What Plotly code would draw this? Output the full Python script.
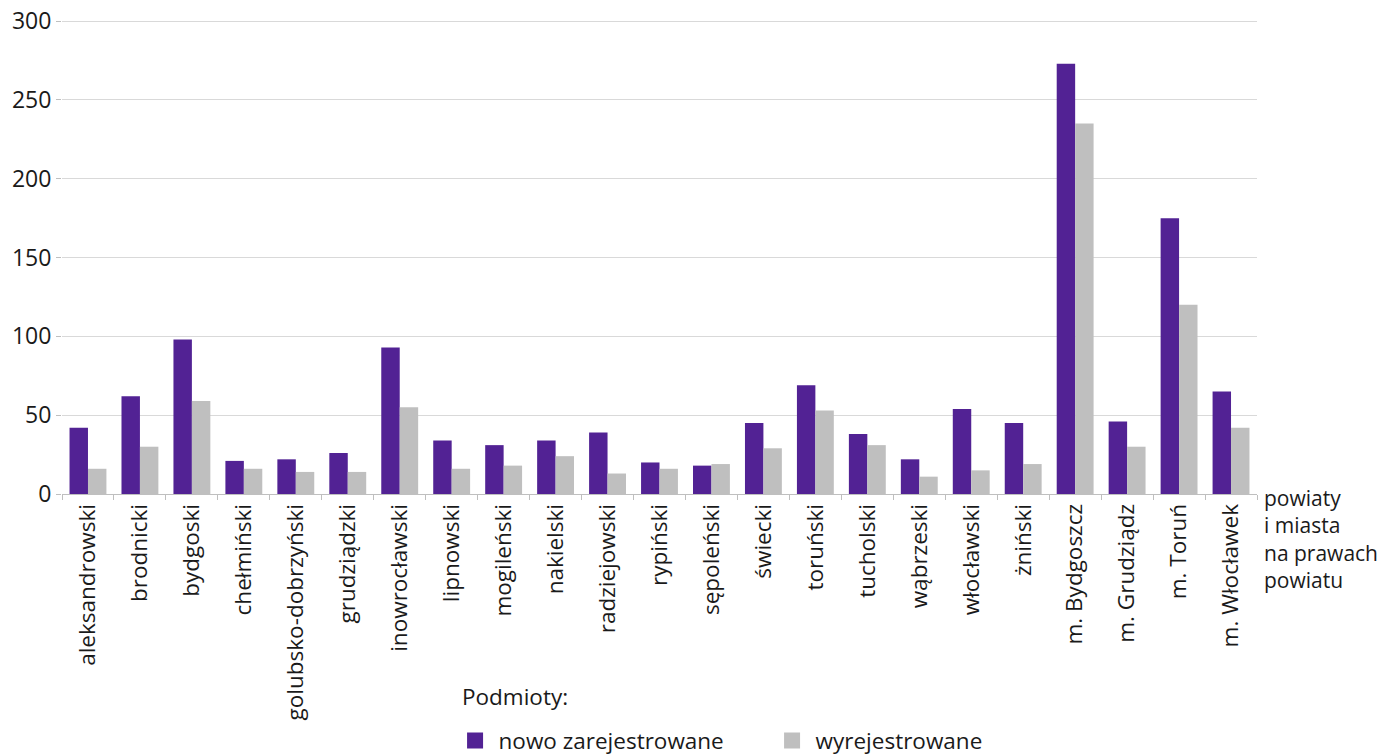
import plotly.graph_objects as go

categories = ["aleksandrowski", "brodnicki", "bydgoski", "chełmiński", "golubsko-dobrzyński",
              "grudziądzki", "inowrocławski", "lipnowski", "mogileński", "nakielski",
              "radziejowski", "rypiński", "sępoleński", "świecki", "toruński", "tucholski",
              "wąbrzeski", "włocławski", "żniński", "m. Bydgoszcz", "m. Grudziądz",
              "m. Toruń", "m. Włocławek"]
nowo = [42, 62, 98, 21, 22, 26, 93, 34, 31, 34, 39, 20, 18, 45, 69, 38, 22, 54, 45, 273, 46, 175, 65]
wyrej = [16, 30, 59, 16, 14, 14, 55, 16, 18, 24, 13, 16, 19, 29, 53, 31, 11, 15, 19, 235, 30, 120, 42]
series_names = ["nowo zarejestrowane", "wyrejestrowane"]
y_ticks = [0, 50, 100, 150, 200, 250, 300]

PURPLE = "#522294"
GREY = "#BFBFBF"
FONT = "Open Sans"
TXT = "#1a1a1a"

fig = go.Figure()
fig.add_trace(go.Bar(x=categories, y=nowo, name=series_names[0], marker_color=PURPLE,
                     marker_line_width=0, showlegend=False))
fig.add_trace(go.Bar(x=categories, y=wyrej, name=series_names[1], marker_color=GREY,
                     marker_line_width=0, showlegend=False))
# legend-only entries with larger square symbols
for nm, col in zip(series_names, [PURPLE, GREY]):
    fig.add_trace(go.Scatter(x=[None], y=[None], mode="markers", name=nm,
                             marker=dict(symbol="square", size=16, color=col)))

# page body has an 8px margin, so the figure is sized to end at the window edge
fig.update_layout(
    width=1379, height=747,
    margin=dict(l=54, r=130, t=12, b=261, autoexpand=False),
    paper_bgcolor="white", plot_bgcolor="white",
    barmode="group", bargap=0.29, bargroupgap=0,
    font=dict(family=FONT, color=TXT, size=20),
    showlegend=True,
    legend=dict(orientation="h", x=0.326, xanchor="left", y=-0.521, yanchor="middle",
                font=dict(size=22.5, family=FONT, color=TXT),
                entrywidth=265, entrywidthmode="pixels", itemsizing="trace",
                itemwidth=37, bgcolor="rgba(0,0,0,0)"),
    xaxis=dict(type="category", tickangle=-90, ticks="outside", tickson="boundaries",
               ticklen=5, tickcolor="#BFBFBF", showline=True, linecolor="#BFBFBF",
               linewidth=1, showgrid=False, tickfont=dict(size=22.5, family=FONT, color=TXT),
               automargin=False, fixedrange=True),
    yaxis=dict(range=[0, 300.7], tickvals=y_ticks, ticks="outside", ticklen=5,
               tickcolor="#BFBFBF", showgrid=True, gridcolor="#D9D9D9", gridwidth=1,
               zeroline=False, showline=False, tickfont=dict(size=23, family=FONT, color=TXT),
               ticklabeloverflow="allow", automargin=False, fixedrange=True),
    annotations=[
        dict(text="powiaty<br>i miasta<br>na prawach<br>powiatu", xref="paper", yref="paper",
             x=1.004, y=0.025, xanchor="left", yanchor="top", align="left", showarrow=False,
             font=dict(size=21, family=FONT, color=TXT)),
        dict(text="Podmioty:", xref="paper", yref="paper", x=0.333, y=-0.428,
             xanchor="left", yanchor="middle", showarrow=False,
             font=dict(size=22.5, family=FONT, color=TXT)),
    ],
)

fig.write_html("out.html")
